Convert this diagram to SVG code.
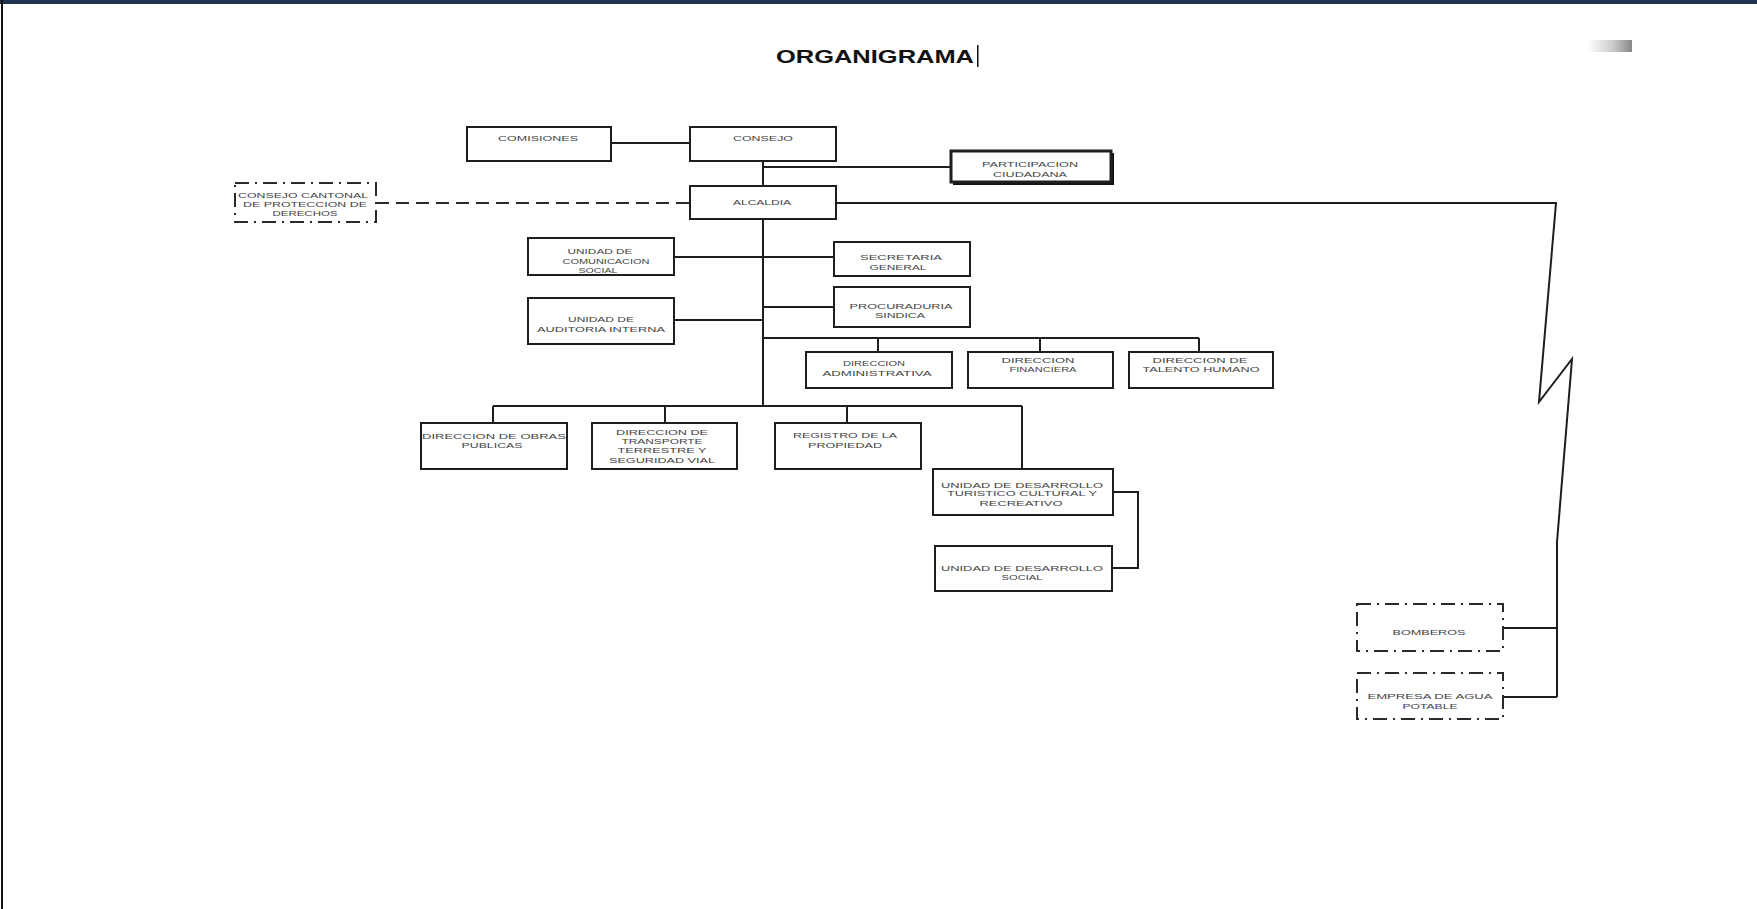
<svg xmlns="http://www.w3.org/2000/svg" width="1757" height="909" viewBox="0 0 1757 909">
<style>
.box{fill:#fff;stroke:#1e1e1e;stroke-width:2}
.dbox{fill:#fff;stroke:#2a2a2a;stroke-width:2;stroke-dasharray:14 6 2 6}
.ln{fill:none;stroke:#1e1e1e;stroke-width:2}
.dln{fill:none;stroke:#2a2a2a;stroke-width:2;stroke-dasharray:13 7}
.t{font-family:"Liberation Sans",Arial,sans-serif;font-size:8px;fill:#444;text-anchor:middle}
.title{font-family:"Liberation Sans",Arial,sans-serif;font-size:19px;font-weight:bold;fill:#111;text-anchor:middle}
</style>
<defs>
<linearGradient id="gmark" x1="0" y1="0" x2="1" y2="0">
<stop offset="0" stop-color="#fff"/>
<stop offset="0.55" stop-color="#ccc"/>
<stop offset="1" stop-color="#888"/>
</linearGradient>
</defs>
<rect x="0" y="0" width="1757" height="909" fill="#fff"/>
<rect x="0" y="0" width="1757" height="4" fill="#1f3350"/>
<rect x="1" y="0" width="2" height="909" fill="#111"/>
<rect x="1588" y="40" width="44" height="12" fill="url(#gmark)"/>
<text class="title" x="875" y="63" textLength="198" lengthAdjust="spacingAndGlyphs">ORGANIGRAMA</text>
<rect x="977" y="45" width="1.5" height="22" fill="#111"/>

<g id="connectors">
<path class="ln" d="M611 143H690"/>
<path class="ln" d="M763 161V406"/>
<path class="ln" d="M763 167H951"/>
<path class="dln" d="M376 203H690"/>
<path class="ln" d="M836 203H1556L1539 402L1572 359L1557 542V697"/>
<path class="ln" d="M1503 628H1557"/>
<path class="ln" d="M1503 697H1557"/>
<path class="ln" d="M674 257H834"/>
<path class="ln" d="M674 320H763"/>
<path class="ln" d="M763 307H834"/>
<path class="ln" d="M763 338H1199M878 338V352M1040 338V352M1199 338V352"/>
<path class="ln" d="M493 406H1022M493 406V423M665 406V423M847 406V423M1022 406V469"/>
<path class="ln" d="M1113 492H1138V568H1112"/>
</g>

<g id="comisiones"><rect class="box" x="467" y="127" width="144" height="34"/>
<text class="t" x="538" y="141" textLength="80" lengthAdjust="spacingAndGlyphs">COMISIONES</text></g>
<g id="consejo"><rect class="box" x="690" y="127" width="146" height="34"/>
<text class="t" x="763" y="141" textLength="60" lengthAdjust="spacingAndGlyphs">CONSEJO</text></g>
<g id="participacion"><rect x="953" y="153" width="161" height="32" fill="#111"/><rect class="box" x="951" y="151" width="160" height="31" style="stroke-width:3"/>
<text class="t" x="1030" y="167" textLength="96" lengthAdjust="spacingAndGlyphs">PARTICIPACION</text>
<text class="t" x="1030" y="177" textLength="74" lengthAdjust="spacingAndGlyphs">CIUDADANA</text></g>
<g id="consejo-cantonal"><rect class="dbox" x="235" y="183" width="141" height="39"/>
<text class="t" x="303" y="198" textLength="130" lengthAdjust="spacingAndGlyphs">CONSEJO CANTONAL</text>
<text class="t" x="305" y="207" textLength="124" lengthAdjust="spacingAndGlyphs">DE PROTECCION DE</text>
<text class="t" x="305" y="216" textLength="65" lengthAdjust="spacingAndGlyphs">DERECHOS</text></g>
<g id="alcaldia"><rect class="box" x="690" y="186" width="146" height="33"/>
<text class="t" x="762" y="205" textLength="58" lengthAdjust="spacingAndGlyphs">ALCALDIA</text></g>
<g id="comunicacion"><rect class="box" x="528" y="238" width="146" height="37"/>
<text class="t" x="600" y="254" textLength="65" lengthAdjust="spacingAndGlyphs">UNIDAD DE</text>
<text class="t" x="606" y="264" textLength="87" lengthAdjust="spacingAndGlyphs">COMUNICACION</text>
<text class="t" x="598" y="273" textLength="39" lengthAdjust="spacingAndGlyphs">SOCIAL</text></g>
<g id="secretaria"><rect class="box" x="834" y="242" width="136" height="34"/>
<text class="t" x="901" y="260" textLength="82" lengthAdjust="spacingAndGlyphs">SECRETARIA</text>
<text class="t" x="898" y="270" textLength="57" lengthAdjust="spacingAndGlyphs">GENERAL</text></g>
<g id="auditoria"><rect class="box" x="528" y="298" width="146" height="46"/>
<text class="t" x="601" y="322" textLength="66" lengthAdjust="spacingAndGlyphs">UNIDAD DE</text>
<text class="t" x="601" y="332" textLength="128" lengthAdjust="spacingAndGlyphs">AUDITORIA INTERNA</text></g>
<g id="procuraduria"><rect class="box" x="834" y="287" width="136" height="40"/>
<text class="t" x="901" y="309" textLength="103" lengthAdjust="spacingAndGlyphs">PROCURADURIA</text>
<text class="t" x="900" y="318" textLength="50" lengthAdjust="spacingAndGlyphs">SINDICA</text></g>
<g id="administrativa"><rect class="box" x="806" y="352" width="146" height="36"/>
<text class="t" x="874" y="366" textLength="62" lengthAdjust="spacingAndGlyphs">DIRECCION</text>
<text class="t" x="877" y="376" textLength="109" lengthAdjust="spacingAndGlyphs">ADMINISTRATIVA</text></g>
<g id="financiera"><rect class="box" x="968" y="352" width="145" height="36"/>
<text class="t" x="1038" y="363" textLength="73" lengthAdjust="spacingAndGlyphs">DIRECCION</text>
<text class="t" x="1043" y="372" textLength="67" lengthAdjust="spacingAndGlyphs">FINANCIERA</text></g>
<g id="talento"><rect class="box" x="1129" y="352" width="144" height="36"/>
<text class="t" x="1200" y="363" textLength="95" lengthAdjust="spacingAndGlyphs">DIRECCION  DE</text>
<text class="t" x="1201" y="372" textLength="117" lengthAdjust="spacingAndGlyphs">TALENTO HUMANO</text></g>
<g id="obras"><rect class="box" x="421" y="423" width="146" height="46"/>
<text class="t" x="494" y="439" textLength="144" lengthAdjust="spacingAndGlyphs">DIRECCION DE OBRAS</text>
<text class="t" x="492" y="448" textLength="61" lengthAdjust="spacingAndGlyphs">PUBLICAS</text></g>
<g id="transporte"><rect class="box" x="592" y="423" width="145" height="46"/>
<text class="t" x="662" y="435" textLength="92" lengthAdjust="spacingAndGlyphs">DIRECCION DE</text>
<text class="t" x="662" y="444" textLength="81" lengthAdjust="spacingAndGlyphs">TRANSPORTE</text>
<text class="t" x="662" y="453" textLength="89" lengthAdjust="spacingAndGlyphs">TERRESTRE Y</text>
<text class="t" x="662" y="463" textLength="106" lengthAdjust="spacingAndGlyphs">SEGURIDAD VIAL</text></g>
<g id="registro"><rect class="box" x="775" y="423" width="146" height="46"/>
<text class="t" x="845" y="438" textLength="104" lengthAdjust="spacingAndGlyphs">REGISTRO DE LA</text>
<text class="t" x="845" y="448" textLength="74" lengthAdjust="spacingAndGlyphs">PROPIEDAD</text></g>
<g id="turistico"><rect class="box" x="933" y="469" width="180" height="46"/>
<text class="t" x="1022" y="488" textLength="162" lengthAdjust="spacingAndGlyphs">UNIDAD DE DESARROLLO</text>
<text class="t" x="1022" y="496" textLength="150" lengthAdjust="spacingAndGlyphs">TURISTICO CULTURAL Y</text>
<text class="t" x="1021" y="506" textLength="83" lengthAdjust="spacingAndGlyphs">RECREATIVO</text></g>
<g id="social"><rect class="box" x="935" y="546" width="177" height="45"/>
<text class="t" x="1022" y="571" textLength="162" lengthAdjust="spacingAndGlyphs">UNIDAD DE DESARROLLO</text>
<text class="t" x="1022" y="580" textLength="41" lengthAdjust="spacingAndGlyphs">SOCIAL</text></g>
<g id="bomberos"><rect class="dbox" x="1357" y="604" width="146" height="47"/>
<text class="t" x="1429" y="635" textLength="73" lengthAdjust="spacingAndGlyphs">BOMBEROS</text></g>
<g id="empresa-agua"><rect class="dbox" x="1357" y="673" width="146" height="46"/>
<text class="t" x="1430" y="699" textLength="125" lengthAdjust="spacingAndGlyphs">EMPRESA DE AGUA</text>
<text class="t" x="1430" y="709" textLength="55" lengthAdjust="spacingAndGlyphs">POTABLE</text></g>
</svg>
